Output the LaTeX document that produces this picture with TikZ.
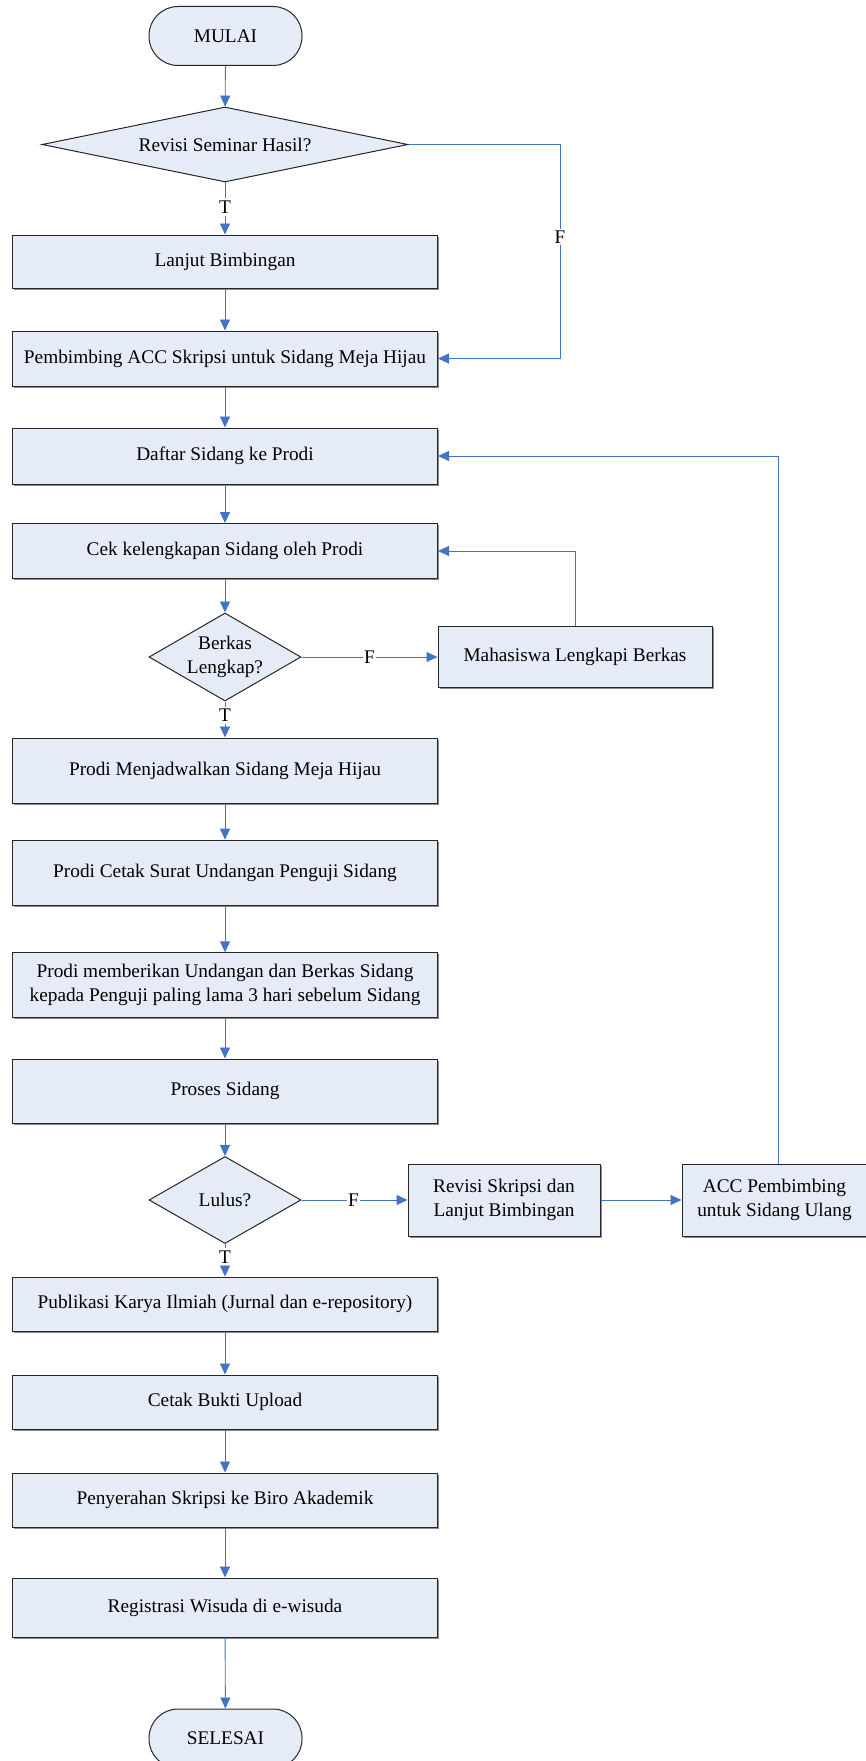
\documentclass[tikz,border=0pt]{standalone}
\usepackage{fontspec}
\setmainfont{Liberation Serif}
\usetikzlibrary{shapes.geometric,arrows.meta,calc}
\definecolor{boxfill}{HTML}{E6ECF7}
\definecolor{arrblue}{HTML}{4472C4}
\newcommand\figfont{\fontsize{19.3}{24}\selectfont}
\begin{document}
\begin{tikzpicture}[x=1pt,y=-1pt,
  box/.style={draw=black!85, line width=1pt, fill=boxfill, minimum width=425pt,
    inner sep=0pt, align=center, font=\figfont,
    preaction={fill=black!45, transform canvas={shift={(1.5pt,-1.5pt)}}}},
  term/.style={draw=black!85, line width=1pt, fill=boxfill, rectangle, rounded corners=29pt,
    minimum width=153pt, minimum height=59pt, inner sep=0pt, font=\figfont},
  dia/.style={draw=black!85, line width=1pt, fill=boxfill, diamond, inner sep=0pt},
  txt/.style={inner sep=0pt, align=center, font=\figfont},
  conn/.style={draw=arrblue, line width=0.9pt},
  arr/.style={conn, -{Triangle[length=11pt,width=10pt]}},
  lab/.style={fill=white, inner sep=1.5pt, font=\figfont},
  tlab/.style={inner sep=2pt, font=\figfont}
]
\useasboundingbox (0,0) rectangle (865,1761);

\node[term] (mulai) at (225.5,36) {MULAI};
\node[dia, minimum width=366pt, minimum height=75pt] (d1) at (225,144.5) {};
\node[txt] (d1t) at (d1) {Revisi Seminar Hasil?};
\node[box, minimum height=53pt] (b1) at (225,261.5) {Lanjut Bimbingan};
\node[box, minimum height=55pt] (b2) at (225,358.5) {Pembimbing ACC Skripsi untuk Sidang Meja Hijau};
\node[box, minimum height=56pt] (b3) at (225,456) {Daftar Sidang ke Prodi};
\node[box, minimum height=55pt] (b4) at (225,551) {Cek kelengkapan Sidang oleh Prodi};
\node[dia, minimum width=152pt, minimum height=88pt] (d2) at (225,657) {};
\node[txt] (d2t) at (d2) {Berkas\\Lengkap?};
\node[box, minimum width=274pt, minimum height=61pt] (b5) at (575,657) {Mahasiswa Lengkapi Berkas};
\node[box, minimum height=65pt] (b6) at (225,770.5) {Prodi Menjadwalkan Sidang Meja Hijau};
\node[box, minimum height=65pt] (b7) at (225,872.7) {Prodi Cetak Surat Undangan Penguji Sidang};
\node[box, minimum height=65pt] (b8) at (225,985.3) {Prodi memberikan Undangan dan Berkas Sidang\\kepada Penguji paling lama 3 hari sebelum Sidang};
\node[box, minimum height=64pt] (b9) at (225,1091) {Proses Sidang};
\node[dia, minimum width=152pt, minimum height=87pt] (d3) at (225,1200) {};
\node[txt] (d3t) at (d3) {Lulus?};
\node[box, minimum width=192pt, minimum height=72pt] (b10) at (504,1200) {Revisi Skripsi dan\\Lanjut Bimbingan};
\node[box, minimum width=185pt, minimum height=72pt] (b11) at (774.5,1200) {ACC Pembimbing\\untuk Sidang Ulang};
\node[box, minimum height=54pt] (b12) at (225,1304) {Publikasi Karya Ilmiah (Jurnal dan e-repository)};
\node[box, minimum height=54pt] (b13) at (225,1402) {Cetak Bukti Upload};
\node[box, minimum height=54pt] (b14) at (225,1500) {Penyerahan Skripsi ke Biro Akademik};
\node[box, minimum height=59pt] (b15) at (225,1607.5) {Registrasi Wisuda di e-wisuda};
\node[term] (selesai) at (225.5,1738.5) {SELESAI};

% T labels
\node[tlab] (t1) at (225,207) {T};
\node[tlab] (t2) at (225,715.5) {T};
\node[tlab] (t3) at (225,1257) {T};

% main flow
\draw[arr] (mulai) -- (d1);
\draw[conn] (d1) -- (t1);
\draw[arr] (t1) -- (b1);
\draw[arr] (b1) -- (b2);
\draw[arr] (b2) -- (b3);
\draw[arr] (b3) -- (b4);
\draw[arr] (b4) -- (d2);
\draw[conn] (d2) -- (t2);
\draw[arr] (t2) -- (b6);
\draw[arr] (b6) -- (b7);
\draw[arr] (b7) -- (b8);
\draw[arr] (b8) -- (b9);
\draw[arr] (b9) -- (d3);
\draw[conn] (d3) -- (t3);
\draw[arr] (t3) -- (b12);
\draw[arr] (b12) -- (b13);
\draw[arr] (b13) -- (b14);
\draw[arr] (b14) -- (b15);
\draw[arr] (b15) -- (selesai);

% branches
\coordinate (c1) at (560,144.5);
\draw[arr] (d1.east) -- (c1) |- (b2.east);
\node[lab] (f1) at (560,237) {F};
\draw[arr] (d2.east) -- node[lab, pos=0.5] (f2) {F} (b5.west);
\draw[arr] (b5.north) |- (b4.east);
\draw[arr] (d3.east) -- node[lab, pos=0.49] (f3) {F} (b10.west);
\draw[arr] (b10.east) -- (b11.west);
\draw[arr] ([xshift=4pt]b11.north) |- (b3.east);
\end{tikzpicture}
\end{document}
